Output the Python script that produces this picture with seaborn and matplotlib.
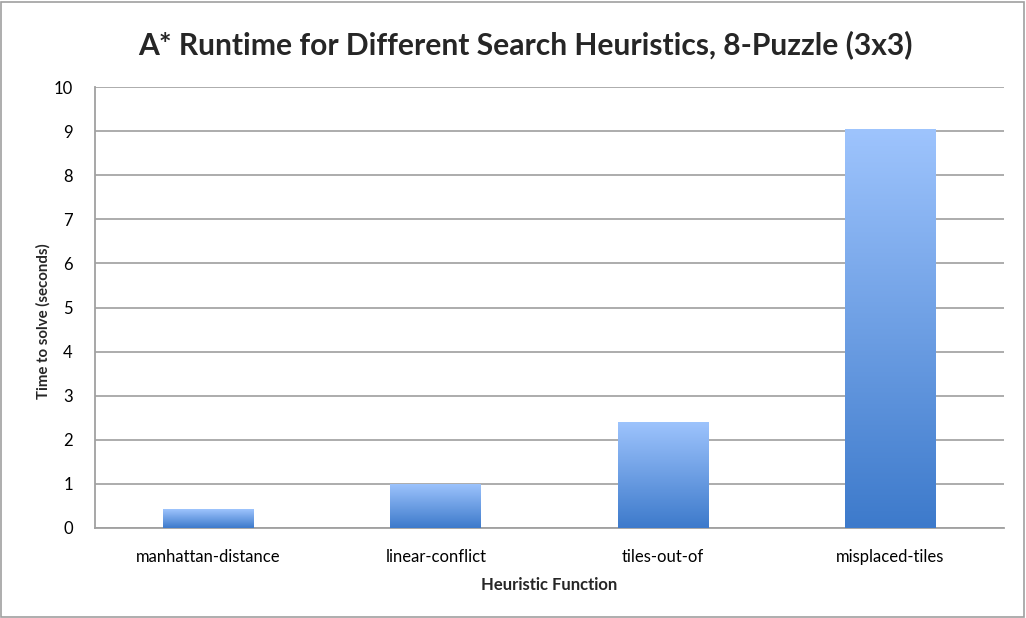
import numpy as np
import pandas as pd
import matplotlib
matplotlib.use("Agg")
import matplotlib.pyplot as plt
from matplotlib.colors import LinearSegmentedColormap
from matplotlib.patches import Rectangle
import seaborn as sns

heuristics = ["manhattan-distance", "linear-conflict", "tiles-out-of", "misplaced-tiles"]
runtimes = [0.43, 1.00, 2.41, 9.04]
yticks = [0, 1, 2, 3, 4, 5, 6, 7, 8, 9, 10]

sns.set_theme(style="white")
plt.rcParams['font.family'] = ['Lato', 'DejaVu Sans']

df = pd.DataFrame({"Heuristic": heuristics, "Time": runtimes})

fig = plt.figure(figsize=(10.26, 6.18), dpi=100)
ax = fig.add_axes([95/1026, 90/618, (1004-95)/1026, (528-87)/618])

sns.barplot(data=df, x="Heuristic", y="Time", ax=ax, width=0.4, color="#6a9be0",
            edgecolor="none", zorder=3)

cmap = LinearSegmentedColormap.from_list("grad", ["#3d7acb", "#9ec4fd"])
grad = np.linspace(0, 1, 256).reshape(-1, 1)
for p in ax.patches:
    x0, y0 = p.get_x(), p.get_y()
    w, h = p.get_width(), p.get_height()
    im = ax.imshow(grad, cmap=cmap, aspect="auto", origin="lower",
                   extent=[x0, x0 + w, y0, y0 + h], zorder=4)
    im.set_clip_path(p)

ax.set_xlim(-0.5, len(heuristics) - 0.5)
ax.set_ylim(0, 10)
ax.set_yticks(yticks)
ax.set_yticklabels([str(t) for t in yticks], fontsize=12, color="#000000")
ax.set_xticks(range(len(heuristics)))
ax.set_xticklabels(heuristics, fontsize=12, color="#000000")
ax.set_xticks(np.arange(-0.5, len(heuristics) + 0.5, 1), minor=True)
ax.tick_params(axis="x", which="major", length=0, pad=15)
ax.tick_params(axis="x", which="minor", length=6, width=1.2, color="#a0a0a0", direction="out")
ax.tick_params(axis="y", length=7, width=1.2, color="#a0a0a0", direction="out", pad=9)

ax.yaxis.grid(True, color="#a6a6a6", linewidth=1.3, zorder=0)
ax.set_axisbelow(True)
for s in ["top", "right"]:
    ax.spines[s].set_visible(False)
for s in ["left", "bottom"]:
    ax.spines[s].set_color("#a0a0a0")
    ax.spines[s].set_linewidth(1.3)

ax.set_xlabel("Heuristic Function", fontsize=12, fontweight="bold", labelpad=9)
ax.set_ylabel("Time to solve (seconds)", fontsize=10.8, fontweight="bold")
ax.yaxis.set_label_coords(-0.057, 0.47)
ax.yaxis.label.set_va("center")

fig.text(0.512, 0.927, "A* Runtime for Different Search Heuristics, 8-Puzzle (3x3)",
         ha="center", va="center", fontsize=21.6, fontweight="bold")

fig.patches.append(Rectangle((1/1026, 1/618), 1023/1026, 615/618, transform=fig.transFigure,
                             fill=False, edgecolor="#a0a0a0", linewidth=1.2))

fig.savefig("out.png", dpi=100)
